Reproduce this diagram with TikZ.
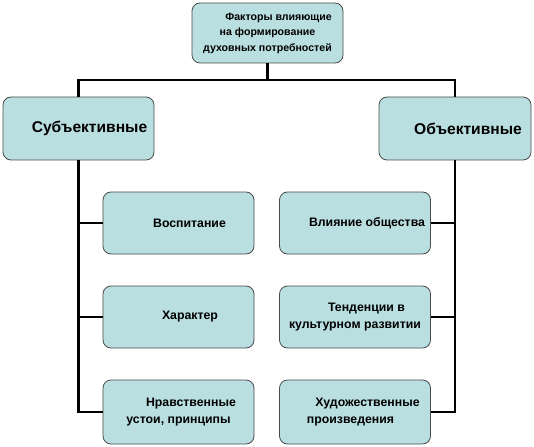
\documentclass[tikz,border=0pt]{standalone}
\usepackage{fontspec}
\setmainfont{Liberation Sans}
\usepackage{tikz}
\usepackage{xcolor}
\usetikzlibrary{positioning}
\definecolor{BoxFill}{HTML}{BADFE1}
\definecolor{BoxLine}{HTML}{4A4A4A}

\begin{document}
\begin{tikzpicture}[x=1pt, y=-1pt,
    factor/.style={draw=BoxLine, fill=BoxFill, rounded corners=8pt, line width=0.8pt,
        align=center, inner sep=0pt, font=\bfseries},
    small/.style={factor, minimum width=151pt, minimum height=62pt, font=\bfseries\fontsize{12.3}{17.5}\selectfont},
    conn/.style={line width=2.7pt, black}]
    \useasboundingbox (0,0) rectangle (534,446);
    % Top box
    \node[factor, minimum width=151pt, minimum height=60pt, font=\bfseries\fontsize{10.6}{15.5}\selectfont]
        (top) at (267.5,33) {\hspace*{22pt}Факторы влияющие\\на формирование\\духовных потребностей};
    % Two main groups
    \node[factor, minimum width=151pt, minimum height=63pt, font=\bfseries\fontsize{15.6}{18}\selectfont]
        (subj) at (78.5,128.5) {\hspace*{22pt}Субъективные};
    \node[factor, minimum width=152pt, minimum height=63pt, font=\bfseries\fontsize{15.6}{18}\selectfont]
        (obj) at (455,128.5) {\hspace*{26pt}Объективные};
    % Subjective factors
    \node[small] (vosp) at (178.5,223) {\hspace*{22pt}Воспитание};
    \node[small] (har) at (178.5,317) {\hspace*{23pt}Характер};
    \node[small, minimum height=64pt] (nrav) at (178.5,412) {\hspace*{25pt}Нравственные\\устои, принципы};
    % Objective factors
    \node[small] (vliy) at (355,223) {\hspace*{24pt}Влияние общества};
    \node[small] (tend) at (355,317) {\hspace*{23pt}Тенденции в\\культурном развитии};
    \node[small, minimum height=64pt] (hud) at (355,412) {\hspace*{25pt}Художественные\\\hspace*{-9pt}произведения};
    % Connectors
    \coordinate (hub) at (267.5,80);
    \draw[conn] (top.south) -- (hub);
    \draw[conn] (subj.north) |- (hub) -| (obj.north);
    \draw[conn] (subj.south) |- (vosp.west);
    \draw[conn] (subj.south) |- (har.west);
    \draw[conn] (subj.south) |- (nrav.west);
    \draw[conn] (obj.south) |- (vliy.east);
    \draw[conn] (obj.south) |- (tend.east);
    \draw[conn] (obj.south) |- (hud.east);
\end{tikzpicture}
\end{document}
